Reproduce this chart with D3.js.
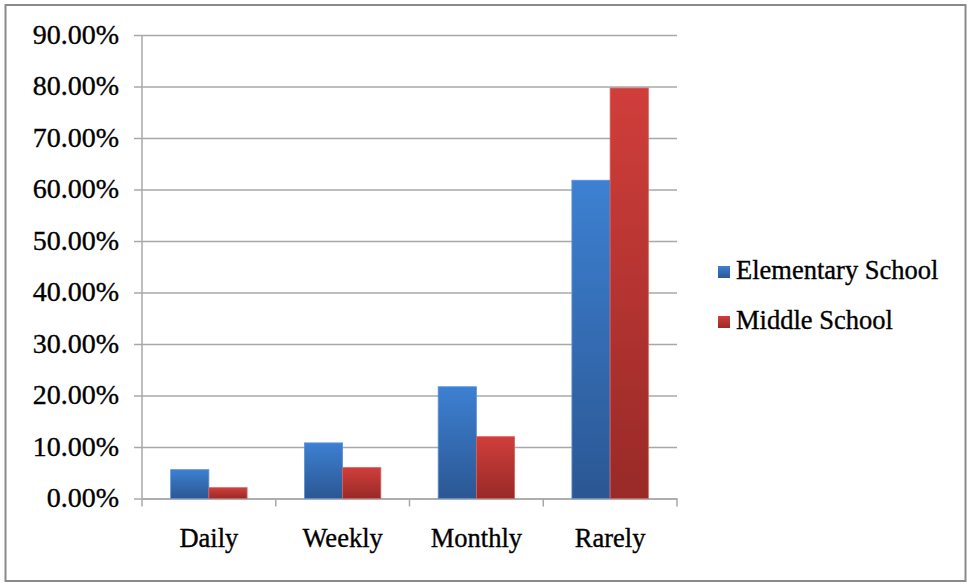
<!DOCTYPE html>
<html>
<head>
<meta charset="utf-8">
<script src="https://cdn.jsdelivr.net/npm/d3@7"></script>
<style>
  html, body { margin: 0; padding: 0; background: #fff; }
  svg { display: block; }
  text { font-family: "Liberation Serif", "Times New Roman", "DejaVu Serif", serif; fill: #000;
         stroke: #000; stroke-width: 0.35px; }
</style>
</head>
<body>
<svg id="chart" width="969" height="584"></svg>
<script>
// Frequency categories and the share of students in each group
const categories = ["Daily", "Weekly", "Monthly", "Rarely"];
const seriesNames = ["Elementary School", "Middle School"];
const elementary = [0.056, 0.108, 0.217, 0.618];
const middle = [0.021, 0.060, 0.120, 0.797];
const yTicks = [0, 0.1, 0.2, 0.3, 0.4, 0.5, 0.6, 0.7, 0.8, 0.9];

const SERIF = "Liberation Serif, Times New Roman, DejaVu Serif, serif";
const plot = { left: 142, right: 677, top: 35, bottom: 498.5 };

const svg = d3.select("#chart");

// gradients for the bars
const defs = svg.append("defs");
const grads = [
  { id: "gBlue", top: "#3d80d2", bottom: "#2b5793" },
  { id: "gRed", top: "#d03e3b", bottom: "#982a27" }
];
grads.forEach(g => {
  const lg = defs.append("linearGradient").attr("id", g.id)
    .attr("x1", 0).attr("y1", 0).attr("x2", 0).attr("y2", 1);
  lg.append("stop").attr("offset", "0%").attr("stop-color", g.top);
  lg.append("stop").attr("offset", "100%").attr("stop-color", g.bottom);
});
const fills = ["url(#gBlue)", "url(#gRed)"];
const edges = ["#5b93d8", "#d9605c"];

// outer frame
svg.append("rect").attr("x", 5.5).attr("y", 5).attr("width", 960).attr("height", 576)
  .attr("fill", "#fff").attr("stroke", "#8a8a8a").attr("stroke-width", 2);

const x = d3.scaleBand().domain(categories).range([plot.left, plot.right]).paddingInner(0).paddingOuter(0);
const x1 = d3.scaleBand().domain(seriesNames).range([0, x.bandwidth()]).paddingInner(0).paddingOuter(0.75);
const y = d3.scaleLinear().domain([0, 0.9]).range([plot.bottom, plot.top]);

// horizontal gridlines with short ticks left of the axis
const yAxis = d3.axisLeft(y).tickValues(yTicks).tickFormat(d3.format(".2%"))
  .tickSize(-(plot.right - plot.left)).tickPadding(23);
const gy = svg.append("g").attr("transform", `translate(${plot.left},0)`).call(yAxis);
gy.attr("font-family", SERIF);
gy.select(".domain").remove();
gy.selectAll(".tick line").attr("stroke", "#a8a8a8").attr("stroke-width", 1.5).attr("x1", -8);
gy.selectAll(".tick text").attr("font-size", 28).attr("fill", "#000")
  .attr("font-family", SERIF).attr("dy", "0.3em");

// vertical axis line
svg.append("line").attr("x1", plot.left).attr("x2", plot.left)
  .attr("y1", plot.top).attr("y2", plot.bottom)
  .attr("stroke", "#a8a8a8").attr("stroke-width", 1.5);

// category axis
const gx = svg.append("g").attr("transform", `translate(0,${plot.bottom})`)
  .call(d3.axisBottom(x).tickSize(0).tickPadding(30));
gx.attr("font-family", SERIF);
gx.select(".domain").attr("stroke", "#a8a8a8").attr("stroke-width", 1.5);
gx.selectAll(".tick text").attr("font-size", 26.5).attr("fill", "#000")
  .attr("font-family", SERIF);
// boundary ticks between categories
const bounds = categories.map(c => x(c)).concat([x.range()[1]]);
svg.append("g").selectAll("line").data(bounds).join("line")
  .attr("x1", d => d).attr("x2", d => d)
  .attr("y1", plot.bottom).attr("y2", plot.bottom + 8)
  .attr("stroke", "#a8a8a8").attr("stroke-width", 1.5);

// bars
const series = [elementary, middle];
series.forEach((vals, si) => {
  svg.append("g").selectAll("rect").data(vals).join("rect")
    .attr("x", (d, i) => x(categories[i]) + x1(seriesNames[si]))
    .attr("y", d => y(d))
    .attr("width", x1.bandwidth())
    .attr("height", d => y(0) - y(d))
    .attr("fill", fills[si])
    .attr("stroke", edges[si]).attr("stroke-width", 0.8);
});

// legend
const legend = svg.append("g");
seriesNames.forEach((name, i) => {
  const ly = 272 + i * 50;
  legend.append("rect").attr("x", 718).attr("y", ly - 6).attr("width", 12).attr("height", 12)
    .attr("fill", fills[i]);
  legend.append("text").attr("x", 736).attr("y", ly + 7)
    .attr("font-size", 26.5).attr("font-family", SERIF).text(name);
});
</script>
</body>
</html>
